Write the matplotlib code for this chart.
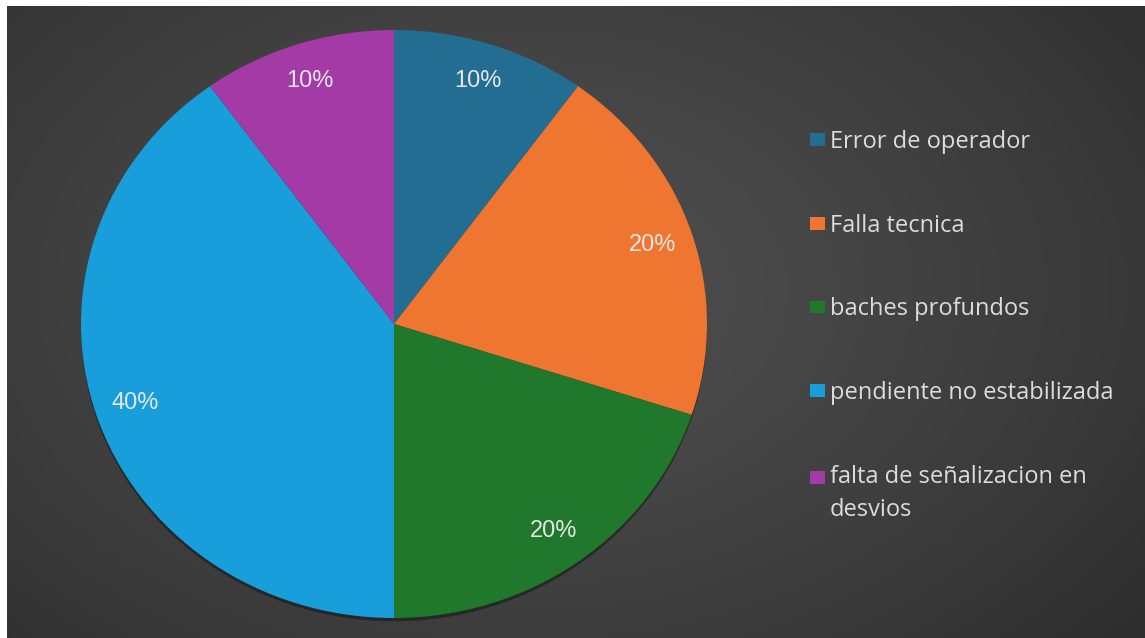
import numpy as np
import matplotlib
matplotlib.use("Agg")
import matplotlib.pyplot as plt
from matplotlib.patches import Patch

categories = ["Error de operador", "Falla tecnica", "baches profundos",
              "pendiente no estabilizada", "falta de señalizacion en\ndesvios"]
values = [10, 20, 20, 40, 10]
colors = ["#236d93", "#ef7631", "#1f782c", "#189edb", "#a43aa6"]

W, H = 1145, 638
fig = plt.figure(figsize=(W / 100, H / 100), dpi=100)
fig.patch.set_facecolor("white")

# background with radial gradient
bg = fig.add_axes([7 / W, 0, 1 - 7 / W, (H - 6) / H])
bg.set_axis_off()
yy, xx = np.mgrid[0:1:300j, 0:1:500j]
d = np.sqrt(((xx - 0.45) / 0.75) ** 2 + ((yy - 0.55) / 0.9) ** 2)
val = 0.31 - 0.14 * np.clip(d, 0, 1) ** 1.3
img = np.dstack([val, val, val])
bg.imshow(img, extent=[0, 1, 0, 1], aspect="auto", origin="lower")
bg.set_xlim(0, 1)
bg.set_ylim(0, 1)

# pie (slightly elliptical as in the reference)
RX, RY = 313, 294
cx, cy = 394, 324
ax = fig.add_axes([(cx - RX) / W, (H - cy - RY) / H, 2 * RX / W, 2 * RY / H])
ax.set_axis_off()
wedges, texts, autotexts = ax.pie(
    values, colors=colors, startangle=90, counterclock=False,
    autopct=lambda p: f"{p:.0f}%", pctdistance=0.87,
    wedgeprops=dict(linewidth=0, edgecolor="none"),
    shadow=dict(ox=0.0, oy=-0.008, facecolor="#111111", edgecolor="#111111", alpha=0.5),
    textprops=dict(color="#e6e6e6", fontsize=17, family="Liberation Sans"))
ax.set_xlim(-1, 1)
ax.set_ylim(-1, 1)
ax.set_aspect("auto")

handles = [Patch(facecolor=c, edgecolor="none") for c in colors]
leg = fig.legend(handles, categories, loc="upper left",
                 bbox_to_anchor=(791 / W, 1 - 111 / H),
                 frameon=False, labelspacing=2.53, handlelength=0.65,
                 handleheight=0.45, handletextpad=0.2, borderpad=0.3,
                 prop=dict(family="Open Sans", size=17))
for t in leg.get_texts():
    t.set_color("#dcdcdc")
    t.set_linespacing(1.5)
# align the handle of the two-line entry with its first line
last = leg.legend_handles[-1]
last.set_y(last.get_y() + 12.0)

fig.savefig("out.png", dpi=100)
